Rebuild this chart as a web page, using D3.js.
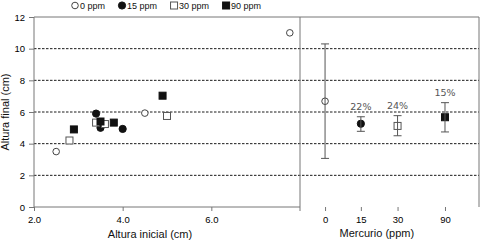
<!DOCTYPE html>
<html><head><meta charset="utf-8">
<script src="https://cdn.jsdelivr.net/npm/d3@7"></script>
<style>
html,body{margin:0;padding:0;background:#fff;}
svg{display:block;font-family:"Liberation Sans",Arial,sans-serif;}
</style></head>
<body>
<svg id="c" width="480" height="242"></svg>
<script>
// ---- data ----
const groups = ["0 ppm","15 ppm","30 ppm","90 ppm"];
const groupShapes = ["openCircle","filledCircle","openSquare","filledSquare"];
// left panel: initial height vs final height
const init0 = [2.5, 4.5, 7.77];
const final0 = [3.5, 5.93, 11.0];
const init15 = [3.4, 3.5, 4.0];
const final15 = [5.9, 5.0, 4.93];
const init30 = [2.8, 3.4, 3.6, 5.0];
const final30 = [4.2, 5.33, 5.24, 5.75];
const init90 = [2.9, 3.5, 3.8, 4.9];
const final90 = [4.9, 5.4, 5.33, 7.03];
// right panel: mercury level summary
const mercury = [0, 15, 30, 90];
const meanFinal = [6.68, 5.26, 5.12, 5.67];
const lowFinal = [3.07, 4.78, 4.5, 4.74];
const highFinal = [10.3, 5.7, 5.77, 6.59];
const cvLabels = ["", "22%", "24%", "15%"];
// ticks
const yTicks = [0, 2, 4, 6, 8, 10, 12];
const xTicksLeft = [2, 4, 6];

const svg = d3.select("#c");
const pTop = 17, pBottom = 207, pLeft = 34, pMid = 300, pRight = 479;

const y = d3.scaleLinear().domain([0, 12]).range([pBottom, pTop]);
const xL = d3.scaleLinear().domain([2, 8]).range([pLeft, pMid]);
// right panel: broken categorical-like scale
const xR = d3.scaleLinear().domain([0, 15, 30, 90])
  .range([0.14, 0.34, 0.545, 0.81].map(f => pMid + f * (pRight - pMid)));

const gridC = "#1a1a1a", axisC = "#777";

// gridlines
svg.append("g").selectAll("line").data(yTicks.filter(t => t > 0 && t < 12)).join("line")
  .attr("x1", pLeft).attr("x2", pRight)
  .attr("y1", d => y(d)).attr("y2", d => y(d))
  .attr("stroke", gridC).attr("stroke-width", 1).attr("stroke-dasharray", "2.5,1.5");

// frame
const frame = svg.append("g").attr("stroke", axisC).attr("stroke-width", 1).attr("fill", "none");
frame.append("line").attr("x1", pLeft).attr("x2", pRight).attr("y1", y(12)).attr("y2", y(12));
frame.append("line").attr("x1", pLeft).attr("x2", pLeft).attr("y1", y(12)).attr("y2", y(0));
frame.append("line").attr("x1", pLeft).attr("x2", pMid).attr("y1", y(0)).attr("y2", y(0));
frame.append("line").attr("x1", pMid).attr("x2", pMid).attr("y1", y(12)).attr("y2", y(0) + 4);
frame.append("line").attr("x1", pRight).attr("x2", pRight).attr("y1", y(12)).attr("y2", y(0));

// y axis
const yAx = svg.append("g").attr("transform", `translate(${pLeft},0)`)
  .call(d3.axisLeft(y).tickValues(yTicks).tickFormat(d3.format("d")).tickSize(5).tickPadding(4));
// x left axis
const xAxL = svg.append("g").attr("transform", `translate(0,${pBottom})`)
  .call(d3.axisBottom(xL).tickValues(xTicksLeft).tickFormat(d3.format(".1f")).tickSize(4).tickPadding(5));
// x right axis
const xAxR = svg.append("g").attr("transform", `translate(0,${pBottom})`)
  .call(d3.axisBottom(xR).tickValues(mercury).tickFormat(d3.format("d")).tickSize(4).tickPadding(5));
[yAx, xAxL, xAxR].forEach(g => {
  g.select(".domain").remove();
  g.selectAll(".tick line").attr("stroke", axisC);
  g.selectAll("text").attr("font-size", 9.5).attr("fill", "#000")
    .attr("font-family", "Liberation Sans, Arial, sans-serif");
});

// axis titles
svg.append("text").attr("x", (pLeft + pMid) / 2 - 17).attr("y", 238)
  .attr("text-anchor", "middle").attr("font-size", 11).attr("fill", "#111").text("Altura inicial (cm)");
svg.append("text").attr("x", xR(15) + 16).attr("y", 237)
  .attr("text-anchor", "middle").attr("font-size", 11).attr("fill", "#111").text("Mercurio (ppm)");
svg.append("text").attr("transform", `translate(9,${(pTop + pBottom) / 2}) rotate(-90)`)
  .attr("text-anchor", "middle").attr("font-size", 11).attr("fill", "#111").text("Altura final (cm)");

// marker drawing
const R = 3.6, S = 7;
function drawMarker(g, shape, cx, cy) {
  const filled = shape.startsWith("filled");
  if (shape.endsWith("Circle")) {
    g.append("circle").attr("cx", cx).attr("cy", cy).attr("r", filled ? R : R - 0.3)
      .attr("fill", filled ? "#111" : "#fff").attr("stroke", filled ? "#111" : "#444").attr("stroke-width", 1);
  } else {
    g.append("rect").attr("x", cx - S / 2).attr("y", cy - S / 2).attr("width", S).attr("height", S)
      .attr("fill", filled ? "#111" : "#fff").attr("stroke", filled ? "#111" : "#555").attr("stroke-width", 1);
  }
}

// left scatter
const leftX = [init0, init15, init30, init90];
const leftY = [final0, final15, final30, final90];
const pts = svg.append("g");
groups.forEach((gname, i) => {
  leftX[i].forEach((xv, j) => drawMarker(pts, groupShapes[i], xL(xv), y(leftY[i][j])));
});

// right panel error bars
const eb = svg.append("g").attr("stroke", "#555").attr("stroke-width", 1);
const cap = 4;
mercury.forEach((m, i) => {
  const cx = xR(m);
  eb.append("line").attr("x1", cx).attr("x2", cx).attr("y1", y(highFinal[i])).attr("y2", y(lowFinal[i]));
  eb.append("line").attr("x1", cx - cap).attr("x2", cx + cap).attr("y1", y(highFinal[i])).attr("y2", y(highFinal[i]));
  eb.append("line").attr("x1", cx - cap).attr("x2", cx + cap).attr("y1", y(lowFinal[i])).attr("y2", y(lowFinal[i]));
});
mercury.forEach((m, i) => drawMarker(pts, groupShapes[i], xR(m), y(meanFinal[i])));
svg.append("g").selectAll("text").data(mercury).join("text")
  .attr("x", d => xR(d)).attr("y", (d, i) => y(highFinal[i]) - 7)
  .attr("text-anchor", "middle").attr("font-size", 9.5).attr("fill", "#555")
  .attr("font-family", "DejaVu Sans, sans-serif")
  .text((d, i) => cvLabels[i]);

// legend
const leg = svg.append("g");
let lx = 75;
const ly = 5.5;
groups.forEach((gname, i) => {
  drawMarker(leg, groupShapes[i], lx, ly);
  const t = leg.append("text").attr("x", lx + 5).attr("y", ly).attr("dy", "0.35em")
    .attr("font-size", 9).attr("fill", "#111").text(gname);
  lx += 5 + t.node().getComputedTextLength() + 17;
});
</script>
</body></html>
